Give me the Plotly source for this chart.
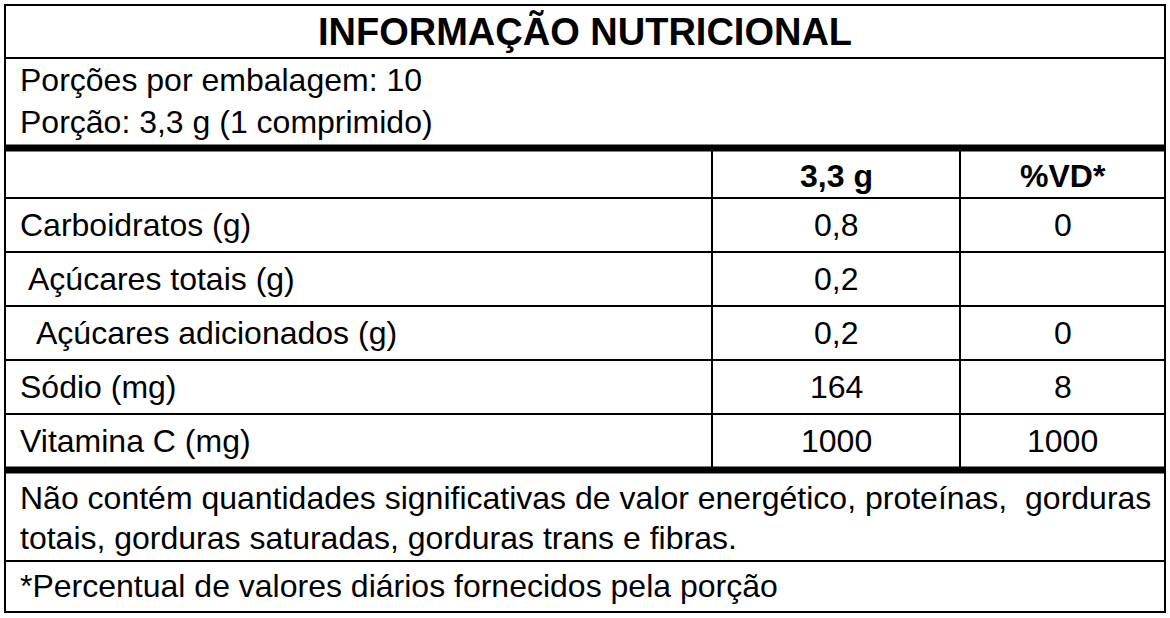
import plotly.graph_objects as go

title = "INFORMAÇÃO NUTRICIONAL"
serving_lines = ["Porções por embalagem: 10", "Porção: 3,3 g (1 comprimido)"]
col_headers = ["3,3 g", "%VD*"]
nutrients = ["Carboidratos (g)", " Açúcares totais (g)", "  Açúcares adicionados (g)",
             "Sódio (mg)", "Vitamina C (mg)"]
indent = [0, 1, 2, 0, 0]
amounts = ["0,8", "0,2", "0,2", "164", "1000"]
vd = ["0", "", "0", "8", "1000"]
note_lines = ["Não contém quantidades significativas de valor energético, proteínas,  gorduras",
              "totais, gorduras saturadas, gorduras trans e fibras."]
footnote = "*Percentual de valores diários fornecidos pela porção"

W, H = 1170, 618
FONT = "Liberation Sans, Arial, sans-serif"
L, R, T, B = 5, 1165, 5, 612
C1, C2 = 712, 960
row_top, row_h = 198, 54

shapes, ann = [], []


def line(x0, y0, x1, y1, w):
    shapes.append(dict(type="line", x0=x0, y0=y0, x1=x1, y1=y1,
                       line=dict(color="black", width=w)))


def text(x, y, s, size=32, anchor="left", bold=False):
    ann.append(dict(x=x, y=y, text=f"<b>{s}</b>" if bold else s, showarrow=False,
                    xanchor=anchor, yanchor="middle",
                    font=dict(family=FONT, size=size, color="black")))


shapes.append(dict(type="rect", x0=L, y0=T, x1=R, y1=B, line=dict(color="black", width=2)))
text(585, 31, title, size=38, anchor="center", bold=True)
line(L, 58, R, 58, 2)
for i, s in enumerate(serving_lines):
    text(18, 80 + i * 42, s)
line(L, 148, R, 148, 7)
line(C1, 148, C1, 470, 2)
line(C2, 148, C2, 470, 2)
text((C1 + C2) / 2, 176, col_headers[0], anchor="center", bold=True)
text((C2 + R) / 2, 176, col_headers[1], anchor="center", bold=True)
line(L, row_top, R, row_top, 2)
for i, name in enumerate(nutrients):
    yc = row_top + row_h * i + row_h / 2
    text(18 + indent[i] * 8, yc, name.strip())
    text((C1 + C2) / 2, yc, amounts[i], anchor="center")
    text((C2 + R) / 2, yc, vd[i], anchor="center")
    if i < len(nutrients) - 1:
        line(L, row_top + row_h * (i + 1), R, row_top + row_h * (i + 1), 2)
line(L, 470, R, 470, 7)
for i, s in enumerate(note_lines):
    text(18, 498 + i * 40, s)
line(L, 561, R, 561, 2)
text(18, 586, footnote)

fig = go.Figure()
fig.update_layout(
    width=W, height=H, margin=dict(l=0, r=0, t=0, b=0),
    paper_bgcolor="white", plot_bgcolor="white",
    xaxis=dict(range=[0, W], visible=False, fixedrange=True),
    yaxis=dict(range=[H, 0], visible=False, fixedrange=True),
    shapes=shapes, annotations=ann, showlegend=False,
)
fig.write_html("out.html", config={"displayModeBar": False},
               post_script="document.body.style.margin='0';document.body.style.overflow='hidden';")
